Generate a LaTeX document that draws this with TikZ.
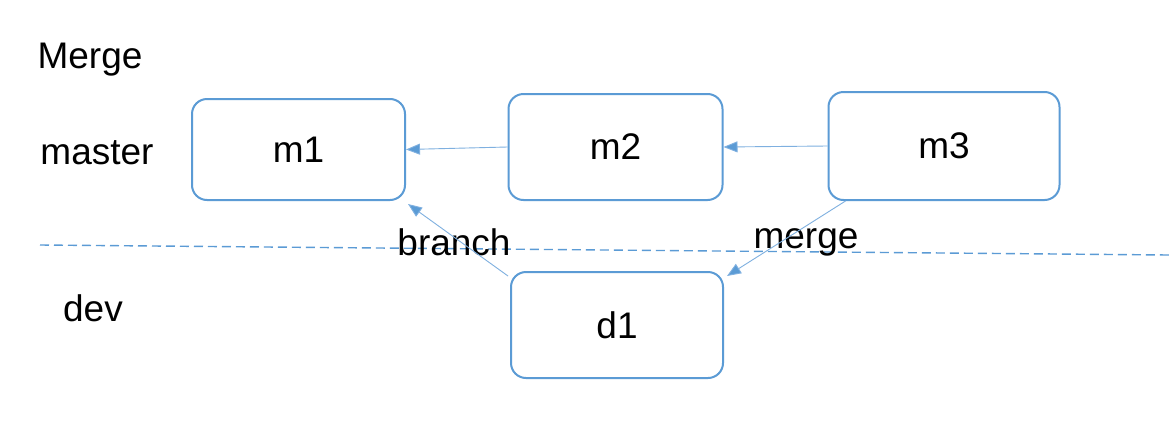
\documentclass[tikz,border=0pt]{standalone}
\usepackage{fontspec}
\setmainfont{Liberation Sans}
\usetikzlibrary{arrows.meta}
\definecolor{boxblue}{HTML}{5B9BD5}
\definecolor{lineblue}{HTML}{7FB0E0}
\begin{document}
\begin{tikzpicture}[x=1pt,y=-1pt,
  commit/.style={draw=boxblue,line width=2pt,rounded corners=15pt,minimum width=#1,inner sep=0pt,font=\fontsize{37}{44}\selectfont},
  commit/.default=213pt,
  lbl/.style={font=\fontsize{37}{44}\selectfont,inner sep=0pt,text=black},
  conn/.style={draw=lineblue,line width=0.9pt,-{Triangle[length=14pt,width=11pt,fill=boxblue]}},
  sep/.style={draw=boxblue,line width=1.4pt,dash pattern=on 9pt off 5pt}]
\useasboundingbox (0,0) rectangle (1169,426);
\fill[white] (0,0) rectangle (1169,426);
\node[commit=213pt,minimum height=101pt] (m1) at (298.5,149.5) {m1};
\node[commit=214pt,minimum height=106pt] (m2) at (615.5,147) {m2};
\node[commit=231pt,minimum height=108pt] (m3) at (944,146) {m3};
\node[commit=212pt,minimum height=106pt] (d1) at (617,325) {d1};
\coordinate (sepA) at (40,245);
\coordinate (sepB) at (1169,255);
\draw[sep] (sepA) -- (sepB);
\node[lbl] (tMerge) at (90,60) {Merge};
\node[lbl] (tmaster) at (97,153) {master};
\node[lbl] (tdev) at (93,308) {dev};
\node[lbl] (tbranch) at (454,242) {branch};
\node[lbl] (tmerge) at (806,242) {merge};
\draw[conn] (m2.west) -- (m1.east);
\draw[conn] (m3.west) -- (m2.east);
\draw[conn] ([xshift=-2pt,yshift=-5pt]d1.north west) -- ([xshift=2pt,yshift=-3pt]m1.south east);
\draw[conn] ([xshift=18pt]m3.south west) -- ([xshift=3pt,yshift=-5pt]d1.north east);
\end{tikzpicture}
\end{document}
